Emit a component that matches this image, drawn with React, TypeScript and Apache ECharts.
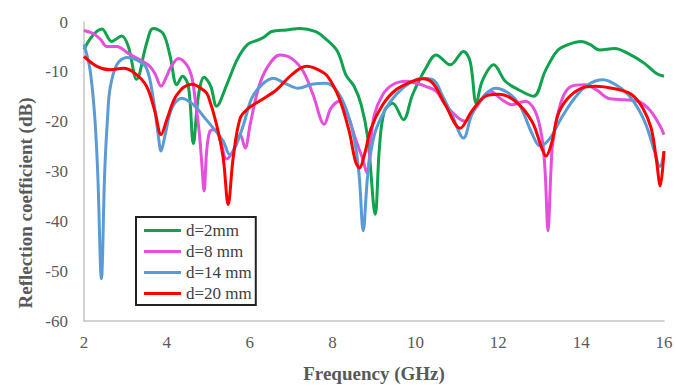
import React, { useEffect, useRef } from "react";
import * as echarts from "echarts";

const xTicks = [2, 4, 6, 8, 10, 12, 14, 16];
const yTicks = [-60, -50, -40, -30, -20, -10, 0];

const seriesNames = ["d=2mm", "d=8 mm", "d=14 mm", "d=20 mm"];
const seriesColors = ["#10A24E", "#E64FDC", "#5B9BD5", "#FF0000"];

const greenFreq = [2.0, 2.2, 2.43, 2.67, 2.91, 3.07, 3.27, 3.51, 3.67, 3.91, 4.08, 4.24, 4.38, 4.52, 4.64, 4.76, 4.9, 5.06, 5.2, 5.45, 5.7, 5.95, 6.21, 6.35, 6.53, 6.89, 7.21, 7.58, 7.82, 8.12, 8.32, 8.52, 8.69, 8.85, 9.03, 9.13, 9.25, 9.45, 9.71, 9.93, 10.25, 10.5, 10.84, 11.16, 11.32, 11.47, 11.61, 11.89, 12.17, 12.49, 12.85, 13.13, 13.42, 13.7, 14.0, 14.21, 14.45, 14.81, 15.13, 15.53, 15.81, 16.0];
const greenDb = [-5.5, -2.8, -1.4, -3.9, -2.8, -4.9, -11.5, -4.3, -1.3, -2.3, -6.9, -12.6, -10.9, -12.9, -24.4, -14.9, -11.1, -12.9, -16.9, -12.5, -7.5, -4.5, -3.6, -3.0, -1.9, -1.6, -1.3, -1.9, -3.3, -5.9, -10.6, -12.9, -16.6, -23.3, -38.6, -25.3, -17.9, -16.3, -19.6, -14.6, -9.3, -6.6, -8.6, -5.9, -7.9, -16.3, -11.9, -8.6, -11.9, -13.6, -14.9, -9.9, -5.8, -4.5, -3.9, -4.5, -5.6, -5.3, -6.3, -8.3, -10.3, -10.9];

const magentaFreq = [2.0, 2.22, 2.4, 2.55, 2.79, 3.07, 3.35, 3.59, 3.72, 3.86, 4.0, 4.08, 4.28, 4.48, 4.6, 4.68, 4.78, 4.84, 4.9, 4.96, 5.04, 5.16, 5.3, 5.44, 5.6, 5.77, 5.89, 6.01, 6.21, 6.41, 6.73, 7.01, 7.29, 7.53, 7.8, 7.96, 8.16, 8.36, 8.57, 8.72, 8.83, 8.92, 9.01, 9.21, 9.45, 9.77, 10.01, 10.25, 10.5, 10.72, 11.04, 11.2, 11.45, 11.81, 12.09, 12.33, 12.65, 12.89, 13.05, 13.13, 13.2, 13.27, 13.32, 13.52, 13.76, 14.08, 14.37, 14.65, 15.05, 15.37, 15.65, 15.89, 16.0];
const magentaDb = [-1.7, -2.3, -3.5, -4.9, -4.9, -6.3, -7.6, -8.9, -10.5, -12.9, -10.8, -9.3, -7.3, -8.6, -11.0, -15.3, -22.0, -28.0, -33.9, -26.0, -21.9, -21.6, -24.0, -27.5, -25.9, -22.6, -25.3, -20.6, -13.3, -9.3, -6.6, -7.3, -9.9, -14.6, -20.5, -17.3, -15.9, -18.6, -23.9, -27.3, -30.3, -24.0, -18.6, -14.6, -12.6, -11.9, -12.3, -12.9, -13.9, -16.6, -19.3, -19.9, -17.3, -13.9, -15.6, -16.6, -15.9, -17.9, -23.0, -30.0, -41.9, -30.0, -23.9, -15.9, -12.9, -12.6, -13.6, -15.3, -15.6, -15.9, -17.6, -20.6, -22.6];

const blueFreq = [2.0, 2.14, 2.25, 2.33, 2.42, 2.5, 2.57, 2.63, 2.79, 3.03, 3.27, 3.51, 3.67, 3.79, 3.86, 3.96, 4.12, 4.36, 4.64, 4.92, 5.12, 5.36, 5.52, 5.64, 5.85, 6.05, 6.29, 6.57, 6.85, 7.17, 7.5, 7.84, 8.08, 8.32, 8.52, 8.64, 8.74, 8.85, 9.01, 9.25, 9.53, 9.85, 10.17, 10.46, 10.64, 10.88, 11.16, 11.36, 11.61, 11.93, 12.25, 12.53, 12.81, 13.01, 13.25, 13.52, 13.84, 14.16, 14.53, 14.89, 15.21, 15.53, 15.77, 15.9, 16.0];
const blueDb = [-4.5, -9.3, -18.0, -30.0, -51.5, -30.0, -19.0, -13.3, -8.6, -7.1, -7.6, -9.3, -15.3, -22.6, -25.9, -22.6, -17.3, -15.3, -16.6, -19.3, -21.3, -23.9, -26.6, -25.3, -20.6, -15.3, -12.6, -11.3, -12.3, -13.3, -12.5, -12.3, -13.6, -17.3, -23.3, -30.6, -41.9, -30.6, -22.6, -17.9, -14.6, -12.3, -11.3, -11.8, -14.6, -18.6, -23.3, -18.6, -15.3, -13.3, -14.3, -16.9, -22.3, -24.9, -23.3, -19.3, -15.3, -12.6, -11.6, -12.9, -15.3, -19.9, -25.9, -29.0, -26.0];

const redFreq = [2.0, 2.31, 2.63, 2.95, 3.23, 3.51, 3.71, 3.86, 4.01, 4.24, 4.6, 4.92, 5.0, 5.2, 5.36, 5.48, 5.6, 5.77, 5.97, 6.29, 6.65, 7.01, 7.37, 7.66, 7.88, 8.16, 8.4, 8.55, 8.65, 8.77, 8.93, 9.21, 9.53, 9.93, 10.17, 10.42, 10.72, 11.08, 11.36, 11.69, 12.01, 12.41, 12.81, 13.05, 13.15, 13.3, 13.44, 13.68, 14.0, 14.33, 14.81, 15.21, 15.49, 15.69, 15.81, 15.91, 16.0];
const redDb = [-6.9, -8.9, -9.6, -9.3, -10.3, -12.9, -17.9, -22.6, -19.3, -14.6, -12.5, -13.9, -14.9, -20.6, -27.3, -36.6, -27.3, -19.3, -17.3, -15.6, -13.6, -10.6, -8.9, -9.6, -10.9, -15.3, -21.9, -27.9, -29.3, -26.6, -21.3, -16.6, -13.6, -11.9, -11.4, -12.3, -16.6, -21.3, -17.9, -14.9, -14.5, -15.9, -19.9, -25.3, -26.9, -23.9, -18.6, -15.3, -13.3, -12.9, -13.4, -14.5, -17.3, -21.3, -27.3, -32.9, -25.9];

const allFreq = [greenFreq, magentaFreq, blueFreq, redFreq];
const allDb = [greenDb, magentaDb, blueDb, redDb];

const SERIF = "'Times New Roman', 'Liberation Serif', serif";

export default function App() {
  const ref = useRef<HTMLDivElement>(null);
  useEffect(() => {
    if (!ref.current) return;
    const chart = echarts.init(ref.current, undefined, { renderer: "svg" });
    const series = seriesNames.map((name, i) => ({
      name,
      type: "line",
      data: allFreq[i].map((f, j) => [f, allDb[i][j]]),
      smooth: 0.35,
      showSymbol: false,
      symbol: "none",
      lineStyle: { color: seriesColors[i], width: 3 },
      itemStyle: { color: seriesColors[i] },
      z: 2 + i,
    }));
    chart.setOption({
      animation: false,
      backgroundColor: "#ffffff",
      grid: { left: 84, right: 12, top: 22, bottom: 66 },
      xAxis: {
        type: "value",
        min: xTicks[0],
        max: xTicks[xTicks.length - 1],
        interval: xTicks[1] - xTicks[0],
        name: "Frequency (GHz)",
        nameLocation: "middle",
        nameGap: 43,
        nameTextStyle: { fontFamily: SERIF, fontWeight: "bold", fontSize: 19, color: "#595959" },
        axisLine: { show: true, onZero: false, lineStyle: { color: "#C4C4C4", width: 1.5 } },
        axisTick: { show: false },
        splitLine: { show: false },
        axisLabel: { fontFamily: SERIF, fontSize: 17, color: "#595959", margin: 13 },
      },
      yAxis: {
        type: "value",
        min: yTicks[0],
        max: yTicks[yTicks.length - 1],
        interval: yTicks[1] - yTicks[0],
        axisLine: { show: true, onZero: false, lineStyle: { color: "#C4C4C4", width: 1.5 } },
        axisTick: { show: false },
        splitLine: { show: false },
        axisLabel: { fontFamily: SERIF, fontSize: 17, color: "#595959", margin: 16 },
      },
      legend: {
        orient: "vertical",
        left: 136,
        top: 217,
        data: seriesNames,
        icon: "rect",
        itemWidth: 37,
        itemHeight: 3,
        itemGap: 4,
        padding: [5, 4, 3, 8],
        borderColor: "#222",
        borderWidth: 2,
        backgroundColor: "#ffffff",
        textStyle: { fontFamily: SERIF, fontSize: 17, color: "#404040" },
      },
      graphic: [
        {
          type: "text",
          x: 25,
          y: 203,
          rotation: Math.PI / 2,
          style: {
            text: "Reflection coefficient (dB)",
            font: "bold 19px " + SERIF,
            fill: "#595959",
            textAlign: "center",
            textVerticalAlign: "middle",
          },
        },
      ],
      series,
    });
    return () => chart.dispose();
  }, []);
  return (
    <div
      ref={ref}
      style={{ position: "fixed", left: 0, top: 0, width: 676, height: 388 }}
    />
  );
}
